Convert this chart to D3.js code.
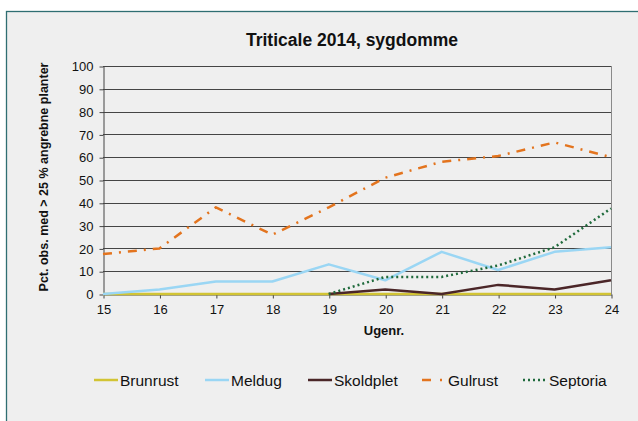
<!DOCTYPE html>
<html>
<head>
<meta charset="utf-8">
<script src="https://cdn.jsdelivr.net/npm/d3@7"></script>
<style>
  body { margin: 0; background: #fff; }
  svg { display: block; font-family: "Liberation Sans", Arial, sans-serif; }
</style>
</head>
<body>
<div id="chart"></div>
<script>
const weeks = [15, 16, 17, 18, 19, 20, 21, 22, 23, 24];
const brunrust = [0, 0, 0, 0, 0, 0, 0, 0, 0, 0];
const meldug = [0, 2, 5.5, 5.5, 13, 6, 18.5, 10.5, 18.5, 20.5];
const skoldplet = [null, null, null, null, 0, 2, 0, 4, 2, 6];
const gulrust = [17.5, 20, 38, 26, 38, 51, 58, 60.5, 66.5, 60];
const septoria = [null, null, null, null, 0, 7.5, 7.5, 12.5, 20.5, 37.5];
const yTicks = [0, 10, 20, 30, 40, 50, 60, 70, 80, 90, 100];

const series = [
  { name: "Brunrust", values: brunrust, color: "#d2c434", dash: null },
  { name: "Meldug", values: meldug, color: "#9ad6f4", dash: null },
  { name: "Skoldplet", values: skoldplet, color: "#4b2628", dash: null },
  { name: "Gulrust", values: gulrust, color: "#e3741e", dash: "9,7,2,7" },
  { name: "Septoria", values: septoria, color: "#1f6a3c", dash: "2,3" }
];

const w = 638, h = 421;
const svg = d3.select("#chart").append("svg").attr("width", w).attr("height", h);

// chart frame
svg.append("rect")
  .attr("x", 6.5).attr("y", 11.5)
  .attr("width", w).attr("height", h)
  .attr("fill", "#efefef")
  .attr("stroke", "#2f6e72")
  .attr("stroke-width", 1.3);

svg.append("text")
  .attr("x", 352).attr("y", 46)
  .attr("text-anchor", "middle")
  .attr("font-size", 17.5).attr("font-weight", "bold")
  .attr("fill", "#111")
  .text("Triticale 2014, sygdomme");

const x = d3.scalePoint().domain(weeks).range([103, 611]);
const y = d3.scaleLinear().domain([0, 100]).range([294, 66]);

// gridlines
svg.append("g")
  .selectAll("line")
  .data(yTicks.filter(d => d > 0))
  .enter()
  .append("line")
  .attr("x1", 103).attr("x2", 611)
  .attr("y1", d => Math.round(y(d)) + 0.5)
  .attr("y2", d => Math.round(y(d)) + 0.5)
  .attr("stroke", "#454545")
  .attr("stroke-width", 1);

// right edge of plot area
svg.append("line")
  .attr("x1", 611.5).attr("x2", 611.5)
  .attr("y1", y(100)).attr("y2", y(0))
  .attr("stroke", "#8a8a8a");

// axes
const yAxis = svg.append("g")
  .attr("transform", "translate(103.5,0.5)")
  .call(d3.axisLeft(y).tickValues(yTicks).tickSize(4).tickSizeOuter(0).tickPadding(6));
yAxis.select(".domain").attr("stroke", "#444");
yAxis.selectAll(".tick line").attr("stroke", "#444");
yAxis.selectAll("text").attr("font-size", 13).attr("fill", "#111")
  .attr("font-family", "Liberation Sans, Arial, sans-serif");

const xAxis = svg.append("g")
  .attr("transform", `translate(0.5,${Math.round(y(0)) + 0.5})`)
  .call(d3.axisBottom(x).tickSize(4).tickSizeOuter(0).tickPadding(6));
xAxis.select(".domain").attr("stroke", "#444");
xAxis.selectAll(".tick line").attr("stroke", "#444");
xAxis.selectAll("text").attr("font-size", 13).attr("fill", "#111")
  .attr("font-family", "Liberation Sans, Arial, sans-serif");

svg.append("text")
  .attr("x", 384).attr("y", 335)
  .attr("text-anchor", "middle")
  .attr("font-size", 13).attr("font-weight", "bold").attr("fill", "#111")
  .text("Ugenr.");

svg.append("text")
  .attr("transform", "translate(48,177) rotate(-90)")
  .attr("text-anchor", "middle")
  .attr("font-size", 12.5).attr("font-weight", "bold").attr("fill", "#111")
  .text("Pct. obs. med > 25 % angrebne planter");

// lines
const line = d3.line()
  .defined(d => d.v !== null)
  .x(d => x(d.week))
  .y(d => y(d.v));

series.forEach(s => {
  svg.append("path")
    .datum(weeks.map((wk, i) => ({ week: wk, v: s.values[i] })))
    .attr("d", line)
    .attr("fill", "none")
    .attr("stroke", s.color)
    .attr("stroke-width", 2.5)
    .attr("stroke-dasharray", s.dash)
    .attr("stroke-linejoin", "round");
});

// legend
const legendX = [94, 205, 308, 422, 523];
const legend = svg.append("g");
series.forEach((s, i) => {
  const g = legend.append("g").attr("transform", `translate(${legendX[i]},380)`);
  g.append("line")
    .attr("x1", 0).attr("x2", 24)
    .attr("y1", 0).attr("y2", 0)
    .attr("stroke", s.color)
    .attr("stroke-width", 2.5)
    .attr("stroke-dasharray", s.name === "Gulrust" ? "9,9,2,20" : s.dash);
  g.append("text")
    .attr("x", s.name === "Gulrust" ? 26 : 26).attr("y", 5.5)
    .attr("font-size", 15.5).attr("fill", "#111")
    .text(s.name);
});
</script>
</body>
</html>
